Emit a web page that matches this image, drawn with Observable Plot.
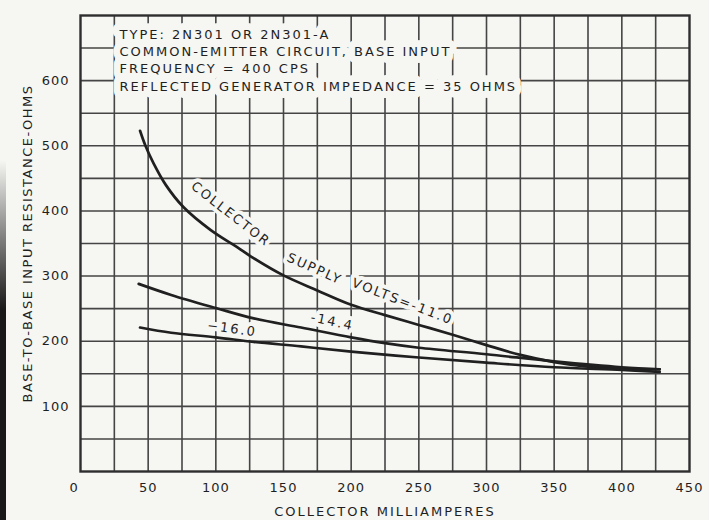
<!DOCTYPE html>
<html>
<head>
<meta charset="utf-8">
<script src="https://cdn.jsdelivr.net/npm/d3@7"></script>
<script src="https://cdn.jsdelivr.net/npm/@observablehq/plot@0.6"></script>
<style>
  html, body { margin: 0; padding: 0; background: #f6f6f3; }
  #chart { position: relative; width: 709px; height: 520px; overflow: hidden; }
  #strip { position: absolute; left: 0; top: 0; width: 6px; height: 520px;
    background: linear-gradient(to bottom, rgba(25,25,25,0) 160px, rgba(25,25,25,0.55) 240px, #181818 310px); }
  #chart svg text { letter-spacing: 2px; }
  #chart svg g[aria-label="y-axis tick label"] text,
  #chart svg g[aria-label="x-axis tick label"] text { letter-spacing: 1px; }
  #chart svg g[aria-label="y-axis label"] text { letter-spacing: 1.5px; }
</style>
</head>
<body>
<div id="chart"><div id="strip"></div></div>
<script>
// Collector supply −11.0 V
const ma11  = [44, 48, 54, 63, 76, 96, 116, 126, 150, 175, 200, 225, 250, 275, 300, 325, 350, 375, 400, 428];
const ohm11 = [523, 500, 473, 440, 406, 371, 344, 330, 301, 278, 256, 240, 225, 210, 194, 179, 168, 161, 158, 157];
// Collector supply −14.4 V
const ma144  = [43, 67, 100, 128, 163, 200, 225, 250, 300, 350, 400, 428];
const ohm144 = [288, 271, 251, 235, 221, 206, 197, 190, 180, 169, 160, 157];
// Collector supply −16.0 V
const ma160  = [44, 67, 100, 128, 163, 200, 250, 300, 350, 400, 428];
const ohm160 = [221, 213, 206, 199, 192, 184, 175, 167, 160, 156, 153];

// ticks and grid
const xTicks = [50, 100, 150, 200, 250, 300, 350, 400, 450];
const yTicks = [100, 200, 300, 400, 500, 600];
const xGrid = [25, 50, 75, 100, 125, 150, 175, 200, 225, 250, 275, 300, 325, 350, 375, 400, 425];
const yGrid = [50, 100, 150, 200, 250, 300, 350, 400, 450, 500, 550, 600, 650];

// texts
const noteLines = [
  "TYPE: 2N301 OR 2N301-A",
  "COMMON-EMITTER CIRCUIT, BASE INPUT",
  "FREQUENCY = 400 CPS",
  "REFLECTED GENERATOR IMPEDANCE = 35 OHMS"
];
const curveLabelText  = ["COLLECTOR", "SUPPLY", "VOLTS=-11.0", "-14.4", "\u221216.0"];
const curveLabelMA    = [111, 173, 238, 186, 112];
const curveLabelOhm   = [395, 311, 261, 230, 219];
const curveLabelAngle = [38, 24, 21, 12, 8];

const rows = [
  ...ma11.map((m, i) => ({series: "-11.0", ma: m, ohms: ohm11[i]})),
  ...ma144.map((m, i) => ({series: "-14.4", ma: m, ohms: ohm144[i]})),
  ...ma160.map((m, i) => ({series: "-16.0", ma: m, ohms: ohm160[i]}))
];
const curveLabels = curveLabelText.map((t, i) => ({
  text: t, ma: curveLabelMA[i], ohms: curveLabelOhm[i], angle: curveLabelAngle[i]
}));

const bg = "#f6f6f3";
const ink = "#1f1f1f";

const chart = Plot.plot({
  width: 709,
  height: 520,
  marginLeft: 80,
  marginRight: 20,
  marginTop: 15,
  marginBottom: 49,
  style: {background: "transparent", fontFamily: "'DejaVu Sans', sans-serif", fontSize: "13px", color: ink},
  x: {domain: [0, 450]},
  y: {domain: [0, 700]},
  marks: [
    Plot.gridX(xGrid, {stroke: "#454545", strokeOpacity: 1, strokeWidth: 1.6}),
    Plot.gridY(yGrid, {stroke: "#454545", strokeOpacity: 1, strokeWidth: 1.6}),
    Plot.frame({stroke: "#2e2e2e", strokeWidth: 2.4}),
    Plot.axisX(xTicks, {tickSize: 0, tickPadding: 11, fontSize: 13, fill: ink,
      label: "COLLECTOR MILLIAMPERES", labelAnchor: "center", labelOffset: 44, labelArrow: "none"}),
    Plot.axisY(yTicks, {tickSize: 0, tickPadding: 11, fontSize: 13, fill: ink,
      label: "BASE-TO-BASE INPUT RESISTANCE-OHMS", labelAnchor: "center", labelOffset: 58, labelArrow: "none"}),
    Plot.text(["0"], {frameAnchor: "bottom-left", dx: -11, dy: 20, fontSize: 13, fill: ink}),
    Plot.text([noteLines.join("\n")], {
      frameAnchor: "top-left", dx: 39, dy: 11, lineAnchor: "top", lineHeight: 1.33,
      textAnchor: "start", fontSize: 13, fill: ink,
      stroke: bg, strokeWidth: 14, strokeLinejoin: "round", paintOrder: "stroke"
    }),
    Plot.text(curveLabels, {
      x: "ma", y: "ohms", text: "text", rotate: "angle", fontSize: 13, fill: ink,
      stroke: bg, strokeWidth: 8, strokeLinejoin: "round", paintOrder: "stroke"
    }),
    Plot.line(rows, {x: "ma", y: "ohms", z: "series", curve: "catmull-rom",
      stroke: "#202020", strokeWidth: 2.7})
  ]
});
document.getElementById("chart").appendChild(chart);
</script>
</body>
</html>
